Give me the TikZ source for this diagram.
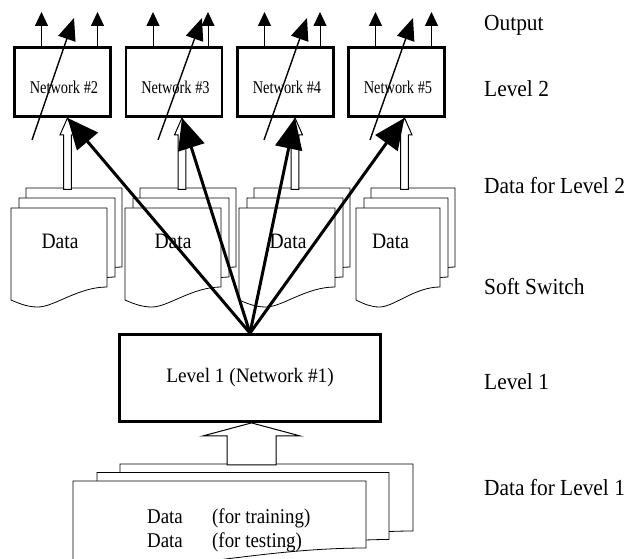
\documentclass[tikz,border=0pt]{standalone}
\usepackage{fontspec}
\setmainfont{Liberation Serif}
\usepackage{graphicx}
\usetikzlibrary{arrows.meta,calc}
\newcommand{\sx}[2]{\scalebox{#1}[1]{#2}}
% document page: L, T, R, y of left bottom, y of right bottom, dip
\newcommand{\docpg}[6]{%
  \filldraw[page] ({#1},{#2}) -- ({#3},{#2}) -- ({#3},{#5})
    .. controls ({(#1)+0.7*((#3)-(#1))},{#5}) and ({(#1)+0.45*((#3)-(#1))},{(#4)+(#6)})
    .. ({(#1)+0.28*((#3)-(#1))},{(#4)+(#6)})
    .. controls ({(#1)+0.18*((#3)-(#1))},{(#4)+(#6)}) and ({(#1)+0.1*((#3)-(#1))},{(#4)+0.6*(#6)})
    .. ({#1},{#4}) -- cycle;}
% stack of three pages: front left, width
\newcommand{\pagestack}[2]{%
  \docpg{(#1)+15}{188}{(#1)+15+(#2)}{280}{267}{7}
  \docpg{(#1)+8}{198}{(#1)+8+(#2)}{290}{277}{7}
  \docpg{#1}{208}{(#1)+(#2)}{300}{287}{7}}
% hollow arrow: tip, shaft length, half shaft, half head, head length
\newcommand{\hollowarrow}[5]{%
  \draw[hollow] (#1) -- ++({#4},{#5}) -- ++({(#3)-(#4)},0) -- ++(0,{#2})
    -- ++({-2*(#3)},0) -- ++(0,{-(#2)}) -- ++({(#3)-(#4)},0) -- cycle;}
\begin{document}
\begin{tikzpicture}[x=1pt,y=-1pt,
  netbox/.style={draw,line width=2.8pt,fill=white,minimum width=96pt,minimum height=69pt,inner sep=0pt},
  l1box/.style={draw,line width=2.8pt,fill=white,minimum width=261pt,minimum height=87pt,inner sep=0pt,
     font=\fontsize{20.5}{23}\selectfont},
  page/.style={draw,fill=white,line width=0.8pt},
  hollow/.style={draw,fill=white,line width=1pt,line join=miter},
  outarrow/.style={line width=1pt,-{Triangle[length=14pt,width=13pt]}},
  trainarrow/.style={line width=1.4pt,-{Triangle[length=22pt,width=18pt]}},
  switcharrow/.style={line width=3pt,-{Triangle[length=31pt,width=27pt]}},
  sidelabel/.style={anchor=base west,inner sep=0pt,font=\fontsize{23}{26}\selectfont},
  netlabel/.style={anchor=base,inner sep=0pt,font=\fontsize{18}{20}\selectfont},
  datalabel/.style={anchor=base,inner sep=0pt,font=\fontsize{22}{24}\selectfont},
  botlabel/.style={anchor=base west,inner sep=0pt,font=\fontsize{21}{23}\selectfont}
]
\path[use as bounding box] (0,0) rectangle (626,559);
\clip (0,0) rectangle (626,559);

% ---------- data for level 2 ----------
\pagestack{11}{96}
\pagestack{125}{96}
\pagestack{239}{96}
\pagestack{356}{84}
\node[datalabel] (dl2) at (60,248) {\sx{0.89}{Data}};
\node[datalabel] (dl3) at (173,248) {\sx{0.89}{Data}};
\node[datalabel] (dl4) at (288,248) {\sx{0.89}{Data}};
\node[datalabel] (dl5) at (390.5,248) {\sx{0.89}{Data}};

% ---------- data for level 1 ----------
\docpg{120}{464}{413}{549}{531}{4}
\docpg{97}{472.5}{389}{557}{539.5}{4}
\docpg{73}{481}{366}{561}{548}{4}
\node[botlabel] (bd1) at (147,523) {\sx{0.9}{Data}};
\node[botlabel] (bt1) at (212,523) {\sx{0.9}{(for training)}};
\node[botlabel] (bd2) at (147,547) {\sx{0.9}{Data}};
\node[botlabel] (bt2) at (212,547) {\sx{0.9}{(for testing)}};

% ---------- boxes ----------
\node[netbox] (n2) at (62.5,82) {};
\node[netbox] (n3) at (174,82) {};
\node[netbox] (n4) at (285.5,82) {};
\node[netbox] (n5) at (396.5,82) {};
\node[netlabel] (t2) at (64,94) {\sx{0.8}{Network \#2}};
\node[netlabel] (t3) at (175.5,94) {\sx{0.8}{Network \#3}};
\node[netlabel] (t4) at (287,94) {\sx{0.8}{Network \#4}};
\node[netlabel] (t5) at (398,94) {\sx{0.8}{Network \#5}};
\node[l1box] (L1) at (250,378) {\sx{0.94}{Level 1 (Network \#1)}};

% ---------- hollow arrows ----------
\coordinate (h2) at (67.5,188);
\coordinate (h3) at (182,188);
\coordinate (h4) at (295,188);
\coordinate (h5) at (404.5,188);
\coordinate (h1) at (251.5,464);
\hollowarrow{n2.south -| h2}{54.5}{3.8}{7.5}{17}
\hollowarrow{n3.south -| h3}{54.5}{3.8}{7.5}{17}
\hollowarrow{n4.south -| h4}{54.5}{3.8}{7.5}{17}
\hollowarrow{n5.south -| h5}{54.5}{3.8}{7.5}{17}
\hollowarrow{L1.south -| h1}{29}{24.5}{48.5}{13}

% ---------- output arrows ----------
\coordinate (o2a) at (41.5,12);  \coordinate (o2b) at (97.5,12);
\coordinate (o3a) at (153,12);   \coordinate (o3b) at (208,12);
\coordinate (o4a) at (264.5,12); \coordinate (o4b) at (320,12);
\coordinate (o5a) at (375.5,12); \coordinate (o5b) at (431.5,12);
\foreach \n/\a/\b in {n2/o2a/o2b,n3/o3a/o3b,n4/o4a/o4b,n5/o5a/o5b}{
  \draw[outarrow] (\n.north -| \a) -- (\a);
  \draw[outarrow] (\n.north -| \b) -- (\b);
}

% ---------- training (adjustable) arrows ----------
\coordinate (s2) at (32,140);  \coordinate (e2) at (74,18);
\coordinate (s3) at (158,140); \coordinate (e3) at (202,18);
\coordinate (s4) at (264,140); \coordinate (e4) at (307,18);
\coordinate (s5) at (370,140); \coordinate (e5) at (413,18);
\draw[trainarrow] (s2) -- (e2);
\draw[trainarrow] (s3) -- (e3);
\draw[trainarrow] (s4) -- (e4);
\draw[trainarrow] (s5) -- (e5);

% ---------- soft switch ----------
\draw[switcharrow] (L1.north) -- (n2.south -| h2);
\draw[switcharrow] (L1.north) -- (n3.south -| h3);
\draw[switcharrow] (L1.north) -- (n4.south -| h4);
\draw[switcharrow] (L1.north) -- (n5.south -| h5);

% ---------- side labels ----------
\node[sidelabel] (lOut) at (484,31)  {\sx{0.93}{Output}};
\node[sidelabel] (lL2)  at (484,97)  {\sx{0.93}{Level 2}};
\node[sidelabel] (lD2)  at (484,193) {\sx{0.93}{Data for Level 2}};
\node[sidelabel] (lSS)  at (484,294) {\sx{0.93}{Soft Switch}};
\node[sidelabel] (lL1)  at (484,389) {\sx{0.93}{Level 1}};
\node[sidelabel] (lD1)  at (484,495) {\sx{0.93}{Data for Level 1}};
\end{tikzpicture}
\end{document}
